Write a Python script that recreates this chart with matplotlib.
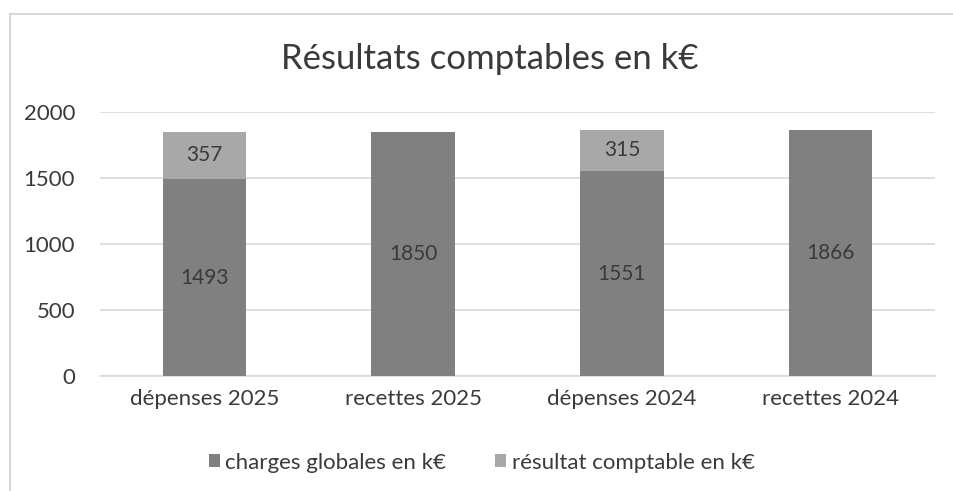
import matplotlib
matplotlib.use("Agg")
from matplotlib import pyplot as plt
from matplotlib.lines import Line2D
import numpy as np

# Data
categories = ["dépenses 2025", "recettes 2025", "dépenses 2024", "recettes 2024"]
charges = [1493, 1850, 1551, 1866]
resultat = [357, 0, 315, 0]
series_names = ["charges globales en k€", "résultat comptable en k€"]

plt.rcParams['font.family'] = ['Lato', 'DejaVu Sans']

fig = plt.figure(figsize=(9.54, 4.91), dpi=100)
ax = fig.add_axes([0.105, 0.234, 0.875, 0.538])

x = np.arange(len(categories))
dark = "#808080"
light = "#a8a8a8"
text_col = "#3a3a3a"

b1 = ax.bar(x, charges, width=0.4, color=dark, zorder=3, label=series_names[0])
b2 = ax.bar(x, resultat, width=0.4, bottom=charges, color=light, zorder=3,
            label=series_names[1])

for i in range(len(categories)):
    ax.text(x[i], charges[i] / 2, str(charges[i]), ha="center", va="center",
            fontsize=15, color=text_col, zorder=4)
    if resultat[i] > 0:
        ax.text(x[i], charges[i] + resultat[i] / 2, str(resultat[i]),
                ha="center", va="center", fontsize=15, color=text_col, zorder=4)

ax.set_xlim(-0.5, 3.5)
ax.set_ylim(0, 2000)
ax.set_yticks([0, 500, 1000, 1500, 2000])
ax.set_xticks(x)
ax.set_xticklabels(categories)
ax.yaxis.grid(True, color="#d9d9d9", linewidth=1.2, zorder=0)
ax.tick_params(axis="both", length=0, labelsize=16, labelcolor=text_col)
ax.tick_params(axis="y", pad=18)
ax.tick_params(axis="x", pad=9)
for s in ["top", "right", "left"]:
    ax.spines[s].set_visible(False)
ax.spines["bottom"].set_color("#d9d9d9")
ax.spines["bottom"].set_linewidth(1.2)

fig.text(0.513, 0.88, "Résultats comptables en k€", ha="center", va="center",
         fontsize=25, color=text_col)

fig.legend(handles=[b1, b2], labels=series_names, loc="center",
           bbox_to_anchor=(0.505, 0.058), ncol=2, frameon=False, fontsize=16,
           labelcolor=text_col, handlelength=0.5, handleheight=0.5,
           handletextpad=0.25, columnspacing=2.2)

# chart frame (top and left edges)
fig.add_artist(Line2D([0.01, 1.0], [0.972, 0.972], color="#d0d0d0", lw=1.2))
fig.add_artist(Line2D([0.01, 0.01], [0.0, 0.972], color="#d0d0d0", lw=1.2))

fig.savefig("out.png", dpi=100)
